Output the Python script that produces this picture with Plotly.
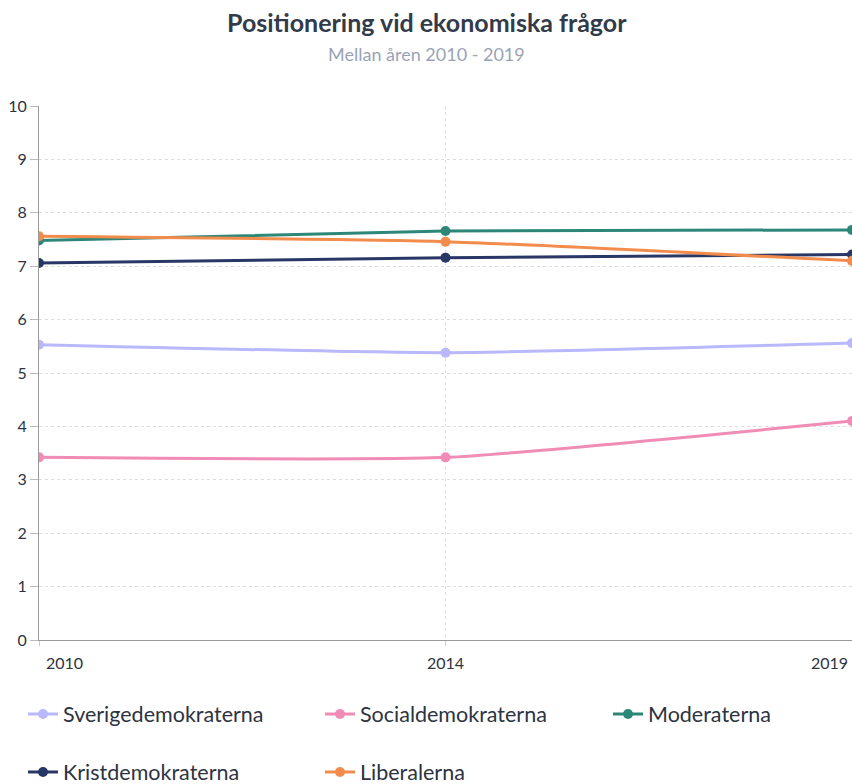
import plotly.graph_objects as go

years = ["2010", "2014", "2019"]
parties = ["Sverigedemokraterna", "Socialdemokraterna", "Moderaterna", "Kristdemokraterna", "Liberalerna"]
sd = [5.53, 5.38, 5.56]
s = [3.42, 3.42, 4.10]
m = [7.48, 7.66, 7.68]
kd = [7.06, 7.16, 7.22]
lib = [7.56, 7.46, 7.10]
values = [sd, s, m, kd, lib]
colors = ["#b8b8fb", "#f08cb6", "#2d8779", "#283766", "#f28c4c"]
y_ticks = [0, 1, 2, 3, 4, 5, 6, 7, 8, 9, 10]

FONT = "Lato, 'Open Sans', sans-serif"
TEXT = "#2d3340"

W, H = 852, 784
PLOT_LEFT, PLOT_TOP, PLOT_BOTTOM = 39, 106, 640
PW = W - PLOT_LEFT
PH = PLOT_BOTTOM - PLOT_TOP


def px_x(page_x):
    return (page_x - PLOT_LEFT) / PW


def px_y(page_y):
    return (PLOT_BOTTOM - page_y) / PH


# legend slot positions (px of text start, row centre)
legend_slots = [(63, 714), (360, 714), (648, 714), (63, 772), (360, 772)]
legend_names = ["legend", "legend2", "legend3", "legend4", "legend5"]

fig = go.Figure()
for name, vals, col, lg in zip(parties, values, colors, legend_names):
    fig.add_trace(go.Scatter(
        x=years, y=vals, name=name, mode="lines+markers",
        line=dict(color=col, width=3, shape="spline", smoothing=0.5),
        marker=dict(color=col, size=10),
        legend=lg, showlegend=True,
    ))

annotations = [
    dict(text="<b>Positionering vid ekonomiska frågor</b>", xref="paper", yref="paper",
         x=px_x(427), y=px_y(22), xanchor="center", yanchor="middle", showarrow=False,
         font=dict(family=FONT, size=25, color="#333b4a")),
    dict(text="Mellan åren 2010 - 2019", xref="paper", yref="paper",
         x=px_x(426), y=px_y(54), xanchor="center", yanchor="middle", showarrow=False,
         font=dict(family=FONT, size=18, color="#9aa3b5")),
]
anchors = ["left", "center", "right"]
shifts = [5, 0, -2]
for i, (yr, anc, sh) in enumerate(zip(years, anchors, shifts)):
    annotations.append(dict(text=yr, x=i, xref="x", yref="paper", y=0, yshift=-22,
                            xanchor=anc, yanchor="middle", showarrow=False, xshift=sh,
                            font=dict(family=FONT, size=16, color=TEXT)))

layout_legends = {}
for lg, (tx, ty) in zip(legend_names, legend_slots):
    layout_legends[lg] = dict(
        orientation="h", xref="container", yref="container",
        x=(tx - 40) / W, y=1 - ty / H, xanchor="left", yanchor="middle",
        font=dict(family=FONT, size=21.5, color=TEXT), itemwidth=30,
        bgcolor="rgba(0,0,0,0)", visible=True)

fig.update_layout(
    width=W, height=H, showlegend=True,
    margin=dict(l=PLOT_LEFT, r=0, t=PLOT_TOP, b=H - PLOT_BOTTOM),
    paper_bgcolor="white", plot_bgcolor="white",
    font=dict(family=FONT, size=16, color=TEXT),
    annotations=annotations,
    xaxis=dict(type="category", range=[0, 2], showticklabels=False,
               showgrid=True, gridcolor="#e2e2e2", griddash="dot", gridwidth=1,
               showline=True, linecolor="#999999", linewidth=1,
               ticks="outside", ticklen=5, tickcolor="#cccccc", zeroline=False),
    yaxis=dict(range=[0, 10], tickvals=y_ticks, showgrid=True, gridcolor="#dddddd",
               griddash="dot", gridwidth=1, showline=True, linecolor="#999999",
               linewidth=1, ticks="outside", ticklen=8, tickcolor="#bbbbbb",
               zeroline=False, tickfont=dict(size=16, color=TEXT)),
    **layout_legends,
)

fig.write_html(
    "out.html",
    config={"displayModeBar": False},
    post_script="document.body.style.margin='0';document.body.style.overflow='hidden';",
)
